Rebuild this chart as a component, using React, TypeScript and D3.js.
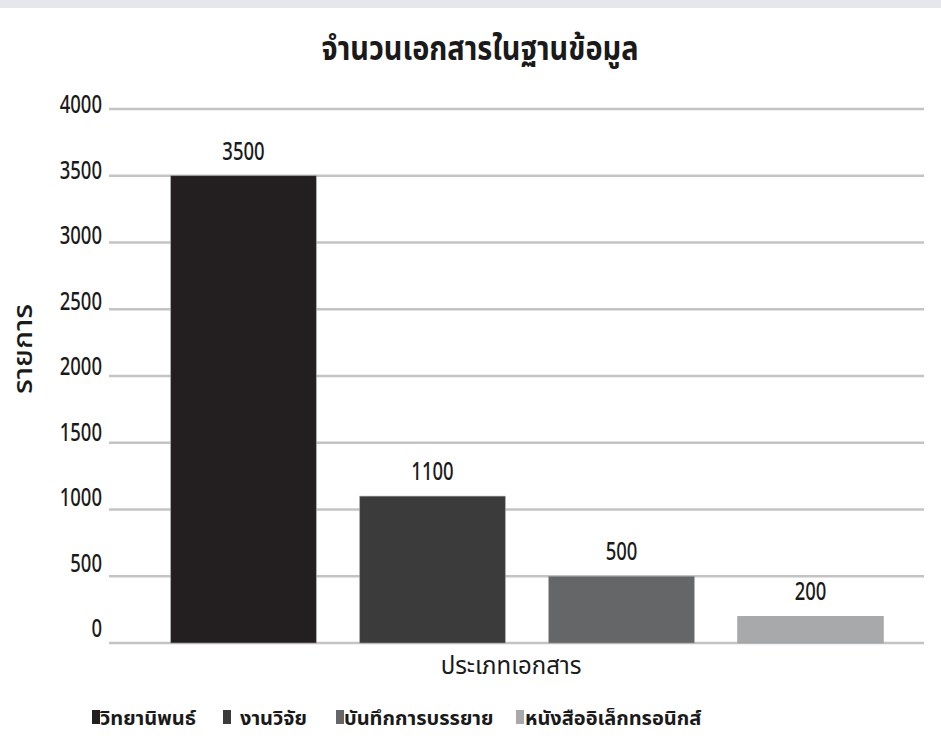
import React from "react";
import * as d3 from "d3";

const categories = ["วิทยานิพนธ์", "งานวิจัย", "บันทึกการบรรยาย", "หนังสืออิเล็กทรอนิกส์"];
const values = [3500, 1100, 500, 200];
const colors = ["#231f20", "#3c3b3c", "#656667", "#a7a9ab"];
const yTicks = [0, 500, 1000, 1500, 2000, 2500, 3000, 3500, 4000];
const title = "จำนวนเอกสารในฐานข้อมูล";
const xTitle = "ประเภทเอกสาร";
const yTitle = "รายการ";

const W = 941;
const H = 756;
const FONT = "'Liberation Sans Narrow', 'Noto Sans', 'Noto Sans Thai', sans-serif";

type CTProps = {
  x: number;
  y: number;
  sx?: number;
  anchor?: "start" | "middle" | "end";
  size: number;
  weight?: string | number;
  rotate?: number;
  children: React.ReactNode;
};

function CText({ x, y, sx = 1, anchor = "start", size, weight = "normal", rotate = 0, children }: CTProps) {
  return (
    <text
      transform={`translate(${x},${y}) rotate(${rotate}) scale(${sx},1)`}
      textAnchor={anchor}
      fontSize={size}
      fontWeight={weight}
      fill="#1a1a1a"
    >
      {children}
    </text>
  );
}

export default function App() {
  const y = d3.scaleLinear().domain([0, 4000]).range([643, 109]);
  const yLabel = d3.scaleLinear().domain([0, 4000]).range([637, 113]);
  const x = d3.scaleBand<string>().domain(categories).range([149, 905]).paddingInner(0.23).paddingOuter(0.115);
  const gridX0 = 109;
  const gridX1 = 924;
  const legendX = [92, 223, 336, 516];
  const legendTextX = [100, 240, 344, 525];

  return (
    <svg width={W} height={H} style={{ position: "absolute", left: 0, top: 0, background: "#fff" }} fontFamily={FONT}>
      <rect x={0} y={0} width={W} height={8} fill="#e6e7ec" />
      <CText x={480} y={60} anchor="middle" size={34} weight="bold" sx={0.85}>
        {title}
      </CText>
      {yTicks.map((t) => (
        <g key={t}>
          <line x1={gridX0} x2={gridX1} y1={y(t)} y2={y(t)} stroke="#c4c4c4" strokeWidth={2.5} />
          <CText x={102} y={yLabel(t)} anchor="end" size={25} weight={500} sx={0.74}>
            {t}
          </CText>
        </g>
      ))}
      {categories.map((c, i) => (
        <g key={c}>
          <rect
            x={x(c)!}
            y={y(values[i])}
            width={x.bandwidth()}
            height={y(0) - y(values[i])}
            fill={colors[i]}
            stroke="#9a9a9a"
            strokeWidth={0.6}
          />
          <CText x={x(c)! + x.bandwidth() / 2} y={y(values[i]) - 16} anchor="middle" size={25} weight={500} sx={0.74}>
            {values[i]}
          </CText>
        </g>
      ))}
      <CText x={511} y={674} anchor="middle" size={24}>
        {xTitle}
      </CText>
      <CText x={32} y={349} anchor="middle" size={27} weight={500} sx={1.1} rotate={-90}>
        {yTitle}
      </CText>
      {categories.map((c, i) => (
        <g key={"lg" + c}>
          <rect x={legendX[i]} y={710} width={8} height={14} fill={colors[i]} />
          <CText x={legendTextX[i]} y={725} size={20} weight="bold">
            {c}
          </CText>
        </g>
      ))}
    </svg>
  );
}
